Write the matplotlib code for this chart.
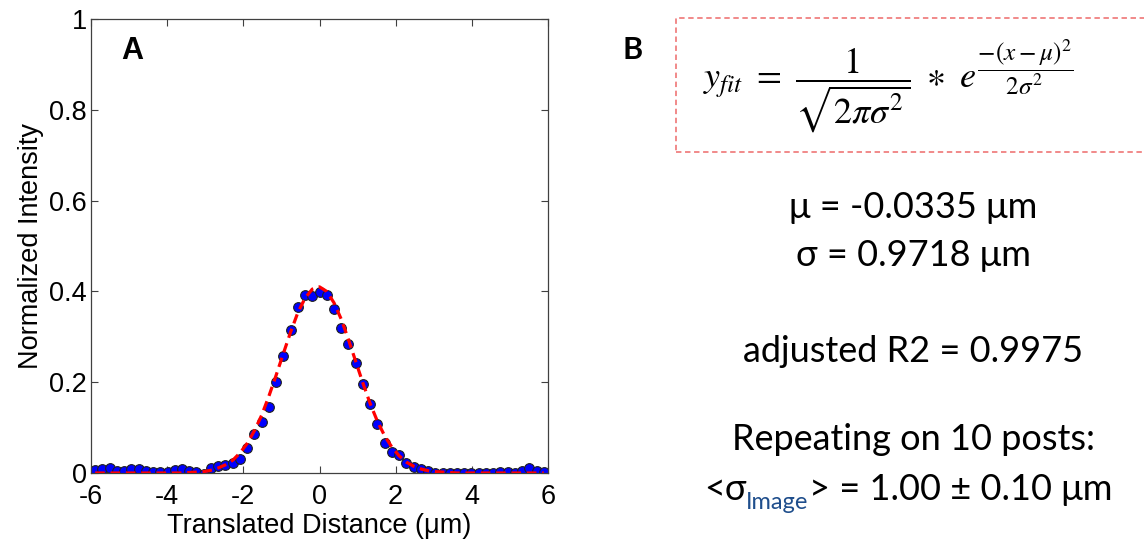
import matplotlib
matplotlib.use("Agg")
import matplotlib.pyplot as plt
from matplotlib.patches import Rectangle

# measured line profile (x in um, normalized intensity)
x_um = [-5.89, -5.70, -5.51, -5.32, -5.13, -4.94, -4.75, -4.56, -4.37, -4.18,
        -3.99, -3.80, -3.61, -3.42, -3.23, -3.04, -2.85, -2.66, -2.47, -2.28,
        -2.09, -1.90, -1.71, -1.52, -1.33, -1.14, -0.95, -0.76, -0.57, -0.38,
        -0.19, 0.00, 0.19, 0.38, 0.57, 0.76, 0.95, 1.14, 1.33, 1.52,
        1.71, 1.90, 2.09, 2.28, 2.47, 2.66, 2.85, 3.04, 3.23, 3.42,
        3.61, 3.80, 3.99, 4.18, 4.37, 4.56, 4.75, 4.94, 5.13, 5.32,
        5.51, 5.70, 5.89]

intensity = [0.006, 0.009, 0.011, 0.005, 0.005, 0.008, 0.008, 0.005, 0.003, 0.003,
             0.003, 0.006, 0.008, 0.005, 0.003, -0.002, 0.010, 0.015, 0.017, 0.022,
             0.031, 0.054, 0.085, 0.113, 0.145, 0.201, 0.257, 0.315, 0.366, 0.393,
             0.389, 0.398, 0.391, 0.361, 0.320, 0.285, 0.243, 0.196, 0.151, 0.108,
             0.067, 0.047, 0.039, 0.023, 0.014, 0.008, 0.004, 0.001, 0.000, 0.001,
             0.001, 0.000, 0.001, 0.000, 0.000, 0.001, 0.002, 0.002, 0.001, 0.004,
             0.010, 0.005, 0.002]

# gaussian fit values at the same positions
fit_y = [0.000, 0.000, 0.000, 0.000, 0.000, 0.000, 0.000, 0.000, 0.000, 0.000,
         0.000, 0.000, 0.000, 0.001, 0.002, 0.003, 0.006, 0.011, 0.018, 0.028,
         0.044, 0.065, 0.093, 0.127, 0.169, 0.215, 0.263, 0.310, 0.353, 0.385,
         0.405, 0.410, 0.400, 0.375, 0.339, 0.294, 0.246, 0.198, 0.153, 0.114,
         0.082, 0.057, 0.038, 0.024, 0.015, 0.009, 0.005, 0.003, 0.002, 0.001,
         0.000, 0.000, 0.000, 0.000, 0.000, 0.000, 0.000, 0.000, 0.000, 0.000,
         0.000, 0.000, 0.000]

x_ticks = [-6, -4, -2, 0, 2, 4, 6]
y_ticks = [0, 0.2, 0.4, 0.6, 0.8, 1]
y_tick_labels = ["0", "0.2", "0.4", "0.6", "0.8", "1"]

fit_lines = ["\u03bc = -0.0335 \u03bcm", "\u03c3 = 0.9718 \u03bcm", "adjusted R2 = 0.9975",
             "Repeating on 10 posts:"]

ARIAL = "Liberation Sans"
CALIBRI = ["Lato", "Open Sans", "DejaVu Sans"]
plt.rcParams["mathtext.fontset"] = "stix"

fig = plt.figure(figsize=(11.44, 5.44), dpi=100)
W, H = 1144, 544

ax = fig.add_axes([91 / W, 1 - 473 / H, 457 / W, 454 / H])
ax.plot(x_um, intensity, "o", color="blue", markersize=7,
        markeredgecolor="#202020", markeredgewidth=0.8, zorder=2)
ax.plot(x_um, fit_y, color="red", linewidth=2.3, dashes=(3, 1.8), zorder=3)

ax.set_xlim(-6, 6)
ax.set_ylim(0, 1)
ax.set_xticks(x_ticks)
ax.set_xticklabels([str(t) for t in x_ticks])
ax.set_yticks(y_ticks)
ax.set_yticklabels(y_tick_labels)
ax.tick_params(direction="in", top=True, right=True, length=5, width=0.8,
               color="#404040", labelsize=19.5)
ax.tick_params(axis="x", pad=8)
ax.tick_params(axis="y", pad=3)
for lab in ax.get_xticklabels() + ax.get_yticklabels():
    lab.set_fontfamily(ARIAL)
for lab in ax.get_yticklabels():
    lab.set_verticalalignment("center_baseline")
for sp in ax.spines.values():
    sp.set_color("#404040")
    sp.set_linewidth(0.9)

ax.set_xlabel("Translated Distance (\u03bcm)", fontsize=19.5, family=ARIAL, labelpad=2)
ax.set_ylabel("Normalized Intensity", fontsize=19.5, family=ARIAL, labelpad=4)
ax.text(0.066, 0.93, "A", transform=ax.transAxes, fontsize=22, fontweight="bold",
        family=ARIAL, ha="left", va="center")

# right panel
fig.text(633 / W, 1 - 50 / H, "B", fontsize=22, fontweight="bold", family=CALIBRI,
         ha="center", va="center")
fig.add_artist(Rectangle((676 / W, 1 - 152 / H), (W + 20 - 676) / W, 134 / H,
                         transform=fig.transFigure, fill=False, edgecolor="#f08080",
                         linestyle=(0, (3, 2)), linewidth=1.3, clip_on=False))

fig.text(888 / W, 1 - 86 / H,
         r"$y_{fit}\ =\ \dfrac{1}{\sqrt{2\pi\sigma^2}}\ \ast\ e^{\dfrac{-(x-\mu)^2}{2\sigma^2}}$",
         fontsize=26, ha="center", va="center")

line_y = [207, 255, 352, 440]
for txt, yy in zip(fit_lines, line_y):
    fig.text(913 / W, 1 - yy / H, txt, fontsize=26, family=CALIBRI,
             ha="center", va="center")

# last line with coloured subscript, assembled from pieces
pieces = [("<\u03c3", 26, "black", 0), ("Image", 17, "#1f4e8c", -9),
          ("> = 1.00 \u00b1 0.10 \u03bcm", 26, "black", 0)]
renderer = fig.canvas.get_renderer()
arts = []
for s, fs, col, dy in pieces:
    t = fig.text(0, 0, s, fontsize=fs, color=col, family=CALIBRI,
                 ha="left", va="baseline")
    arts.append((t, dy))
widths = [t.get_window_extent(renderer).width for t, _ in arts]
total = sum(widths)
xpos = 908 - total / 2
base = 500
for (t, dy), w in zip(arts, widths):
    t.set_position((xpos / W, 1 - (base - dy) / H))
    xpos += w

fig.savefig("out.png", dpi=100)
